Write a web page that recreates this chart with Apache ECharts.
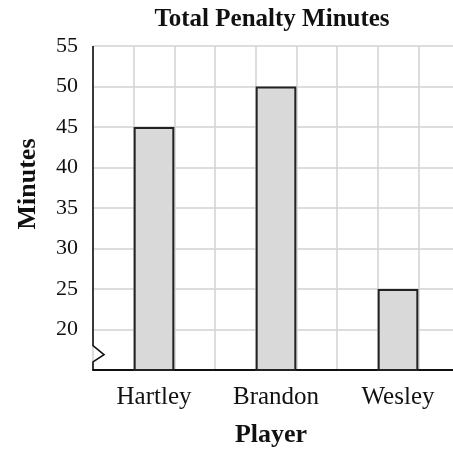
<!DOCTYPE html>
<html><head><meta charset="utf-8">
<script src="https://cdn.jsdelivr.net/npm/echarts@6/dist/echarts.min.js"></script>
<style>html,body{margin:0;padding:0;background:#fff}#c{width:453px;height:450px}</style>
</head><body><div id="c"></div>
<script>
const categories = ['Hartley', 'Brandon', 'Wesley'];
const minutes = [45, 50, 25];
const yTicks = [20, 25, 30, 35, 40, 45, 50, 55];
const titleText = 'Total Penalty Minutes';
const xName = 'Player';
const yName = 'Minutes';

const FONT = '"Liberation Serif", "DejaVu Serif", serif';
const chart = echarts.init(document.getElementById('c'), null, {renderer: 'canvas'});
const option = {
  animation: false,
  backgroundColor: '#fff',
  title: {
    text: titleText, left: 267, top: 2, textAlign: 'center',
    textStyle: {fontFamily: FONT, fontWeight: 'bold', fontSize: 25, color: '#111'}
  },
  grid: {left: 93, top: 46, right: -6, bottom: 80, containLabel: false, outerBoundsMode: 'none'},
  xAxis: [{
    type: 'category', data: categories,
    axisLine: {show: true, lineStyle: {color: '#111', width: 2}},
    axisTick: {show: false},
    axisLabel: {fontFamily: FONT, fontSize: 25, color: '#111', margin: 15},
    splitLine: {show: false},
    name: xName, nameLocation: 'middle', nameGap: 52,
    nameTextStyle: {fontFamily: FONT, fontWeight: 'bold', fontSize: 26, color: '#111', padding: [0, 10, 0, 0]}
  }, {
    type: 'value', min: 0, max: 9, interval: 1, position: 'bottom',
    axisLine: {show: false}, axisTick: {show: false}, axisLabel: {show: false},
    splitLine: {show: true, lineStyle: {color: '#d2d2d2', width: 1.5}}
  }],
  yAxis: {
    type: 'value', min: 15, max: 55, interval: 5,
    axisLine: {show: false}, axisTick: {show: false},
    axisLabel: {fontFamily: FONT, fontSize: 22, color: '#111', margin: 15,
      formatter: v => yTicks.includes(v) ? String(v) : ''},
    splitLine: {show: true, lineStyle: {color: '#d2d2d2', width: 1.5}},
    name: yName, nameLocation: 'middle', nameGap: 52,
    nameTextStyle: {fontFamily: FONT, fontWeight: 'bold', fontSize: 26, color: '#111', padding: [0, 0, 0, 48]}
  },
  series: [{
    type: 'bar', data: minutes, xAxisIndex: 0, yAxisIndex: 0, barWidth: '33.33%',
    itemStyle: {color: '#d9d9d9', borderColor: '#222', borderWidth: 2}
  }]
};
chart.setOption(option);

// y axis line with a break zigzag near the bottom
const ax = chart.convertToPixel({xAxisIndex: 1}, 0);
const yTop = chart.convertToPixel({yAxisIndex: 0}, 55);
const yBot = chart.convertToPixel({yAxisIndex: 0}, 15);
const yB1 = chart.convertToPixel({yAxisIndex: 0}, 18);
const yB2 = chart.convertToPixel({yAxisIndex: 0}, 16.9);
const yB3 = chart.convertToPixel({yAxisIndex: 0}, 16);
chart.setOption({
  graphic: [{
    type: 'polyline', z: 100,
    shape: {points: [[ax, yTop], [ax, yB1], [ax + 11, yB2], [ax, yB3], [ax, yBot]]},
    style: {stroke: '#111', lineWidth: 1.6, fill: null}
  }]
});
</script>
</body></html>
